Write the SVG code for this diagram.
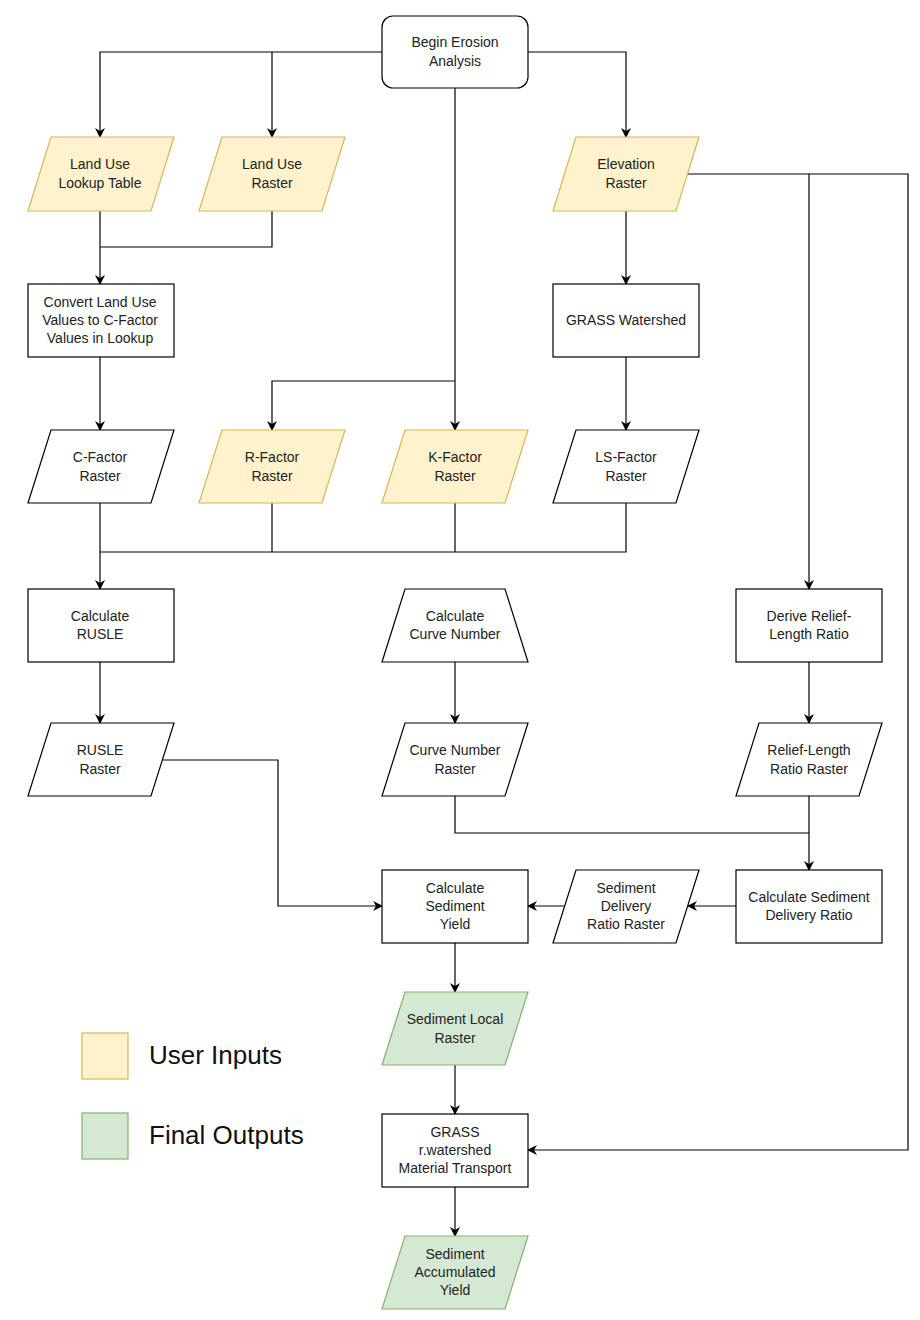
<svg xmlns="http://www.w3.org/2000/svg" width="920" height="1320" viewBox="0 0 920 1320">
<defs>
<marker id="arr" viewBox="0 0 10 10" refX="9" refY="5" markerWidth="10" markerHeight="10" markerUnits="userSpaceOnUse" orient="auto">
<path d="M0,0 L10,5 L0,10 L3,5 Z" fill="#000"/>
</marker>
</defs>
<style>
.n{fill:#fff;stroke:#000;stroke-width:1.2}
.in{fill:#fff2cc;stroke:#d6b656;stroke-width:1.2}
.out{fill:#d5e8d4;stroke:#82b366;stroke-width:1.2}
.t{font-family:"Liberation Sans",Arial,sans-serif;font-size:14px;fill:#222;text-anchor:middle}
.lg{font-family:"Liberation Sans",Arial,sans-serif;font-size:26px;fill:#111}
.c{fill:none;stroke:#000;stroke-width:1.2}
.ca{fill:none;stroke:#000;stroke-width:1.2;marker-end:url(#arr)}
</style>
<rect width="920" height="1320" fill="#fff"/>
<g id="connectors">
<path class="ca" d="M382,52 H100 V137"/>
<path class="ca" d="M272,52 V137"/>
<path class="ca" d="M528,52 H626 V137"/>
<path class="ca" d="M455,88 V430"/>
<path class="ca" d="M455,381 H272 V430"/>
<path class="ca" d="M100,211 V284"/>
<path class="c" d="M272,211 V247 H100"/>
<path class="ca" d="M100,357 V430"/>
<path class="ca" d="M626,211 V284"/>
<path class="ca" d="M626,357 V430"/>
<path class="ca" d="M688,174 H908 V1150 H528"/>
<path class="ca" d="M809,174 V589"/>
<path class="ca" d="M100,503 V589"/>
<path class="c" d="M272,503 V552"/>
<path class="c" d="M455,503 V552"/>
<path class="c" d="M626,503 V552 H100"/>
<path class="ca" d="M100,662 V723"/>
<path class="ca" d="M163,760 H278 V906 H382"/>
<path class="ca" d="M455,662 V723"/>
<path class="ca" d="M809,662 V723"/>
<path class="c" d="M455,796 V833 H809"/>
<path class="ca" d="M809,796 V870"/>
<path class="ca" d="M736,906 H688"/>
<path class="ca" d="M564,906 H528"/>
<path class="ca" d="M455,943 V992"/>
<path class="ca" d="M455,1065 V1114"/>
<path class="ca" d="M455,1187 V1236"/>
</g>
<g id="begin"><rect class="n" x="382" y="16" width="146" height="72" rx="11"/><text class="t" x="455" y="47">Begin Erosion</text><text class="t" x="455" y="66">Analysis</text></g>
<g id="landuse-lookup"><polygon class="in" points="51,137 174,137 151,211 28,211"/><text class="t" x="100" y="169">Land Use</text><text class="t" x="100" y="188">Lookup Table</text></g>
<g id="landuse-raster"><polygon class="in" points="222,137 345,137 322,211 199,211"/><text class="t" x="272" y="169">Land Use</text><text class="t" x="272" y="188">Raster</text></g>
<g id="elevation"><polygon class="in" points="576,137 699,137 676,211 553,211"/><text class="t" x="626" y="169">Elevation</text><text class="t" x="626" y="188">Raster</text></g>
<g id="convert"><rect class="n" x="28" y="284" width="146" height="73"/><text class="t" x="100" y="307">Convert Land Use</text><text class="t" x="100" y="325">Values to C-Factor</text><text class="t" x="100" y="343">Values in Lookup</text></g>
<g id="grass-watershed"><rect class="n" x="553" y="284" width="146" height="73"/><text class="t" x="626" y="325">GRASS Watershed</text></g>
<g id="cfactor"><polygon class="n" points="51,430 174,430 151,503 28,503"/><text class="t" x="100" y="462">C-Factor</text><text class="t" x="100" y="481">Raster</text></g>
<g id="rfactor"><polygon class="in" points="222,430 345,430 322,503 199,503"/><text class="t" x="272" y="462">R-Factor</text><text class="t" x="272" y="481">Raster</text></g>
<g id="kfactor"><polygon class="in" points="405,430 528,430 505,503 382,503"/><text class="t" x="455" y="462">K-Factor</text><text class="t" x="455" y="481">Raster</text></g>
<g id="lsfactor"><polygon class="n" points="576,430 699,430 676,503 553,503"/><text class="t" x="626" y="462">LS-Factor</text><text class="t" x="626" y="481">Raster</text></g>
<g id="calc-rusle"><rect class="n" x="28" y="589" width="146" height="73"/><text class="t" x="100" y="621">Calculate</text><text class="t" x="100" y="639">RUSLE</text></g>
<g id="calc-curve"><polygon class="n" points="405,589 505,589 528,662 382,662"/><text class="t" x="455" y="621">Calculate</text><text class="t" x="455" y="639">Curve Number</text></g>
<g id="derive-relief"><rect class="n" x="736" y="589" width="146" height="73"/><text class="t" x="809" y="621">Derive Relief-</text><text class="t" x="809" y="639">Length Ratio</text></g>
<g id="rusle-raster"><polygon class="n" points="51,723 174,723 151,796 28,796"/><text class="t" x="100" y="755">RUSLE</text><text class="t" x="100" y="774">Raster</text></g>
<g id="curve-raster"><polygon class="n" points="405,723 528,723 505,796 382,796"/><text class="t" x="455" y="755">Curve Number</text><text class="t" x="455" y="774">Raster</text></g>
<g id="relief-raster"><polygon class="n" points="759,723 882,723 859,796 736,796"/><text class="t" x="809" y="755">Relief-Length</text><text class="t" x="809" y="774">Ratio Raster</text></g>
<g id="calc-yield"><rect class="n" x="382" y="870" width="146" height="73"/><text class="t" x="455" y="893">Calculate</text><text class="t" x="455" y="911">Sediment</text><text class="t" x="455" y="929">Yield</text></g>
<g id="sdr-raster"><polygon class="n" points="576,870 699,870 676,943 553,943"/><text class="t" x="626" y="893">Sediment</text><text class="t" x="626" y="911">Delivery</text><text class="t" x="626" y="929">Ratio Raster</text></g>
<g id="calc-sdr"><rect class="n" x="736" y="870" width="146" height="73"/><text class="t" x="809" y="902">Calculate Sediment</text><text class="t" x="809" y="920">Delivery Ratio</text></g>
<g id="sediment-local"><polygon class="out" points="405,992 528,992 505,1065 382,1065"/><text class="t" x="455" y="1024">Sediment Local</text><text class="t" x="455" y="1043">Raster</text></g>
<g id="rwatershed"><rect class="n" x="382" y="1114" width="146" height="73"/><text class="t" x="455" y="1137">GRASS</text><text class="t" x="455" y="1155">r.watershed</text><text class="t" x="455" y="1173">Material Transport</text></g>
<g id="sediment-accum"><polygon class="out" points="405,1236 528,1236 505,1309 382,1309"/><text class="t" x="455" y="1259">Sediment</text><text class="t" x="455" y="1277">Accumulated</text><text class="t" x="455" y="1295">Yield</text></g>
<g id="legend">
<rect class="in" x="82" y="1033" width="46" height="46" stroke-width="2"/>
<text class="lg" x="149" y="1064">User Inputs</text>
<rect class="out" x="82" y="1113" width="46" height="46" stroke-width="2"/>
<text class="lg" x="149" y="1144">Final Outputs</text>
</g>
</svg>
